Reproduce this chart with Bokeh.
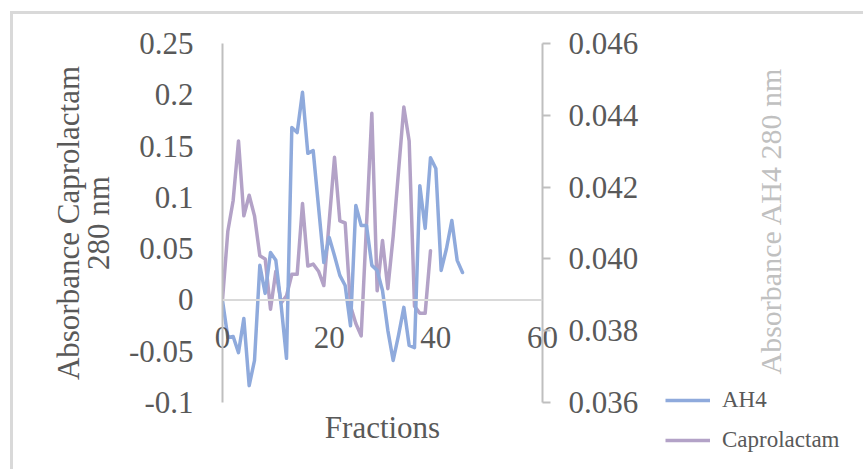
from math import pi
import numpy as np
from bokeh.plotting import figure
from bokeh.layouts import row
from bokeh.models import (LinearAxis, Range1d, FixedTicker, CustomJSTickFormatter,
                          PrintfTickFormatter, Span, Label, Legend, LegendItem)
from bokeh.embed import file_html
from bokeh.resources import INLINE

# ---- data ----
fractions_cap = list(range(40))
caprolactam = [0.000, 0.067, 0.097, 0.155, 0.082, 0.102, 0.082, 0.043, 0.040, -0.009,
               0.028, -0.003, 0.004, 0.025, 0.025, 0.094, 0.033, 0.035, 0.028, 0.014,
               0.076, 0.139, 0.077, 0.075, -0.006, -0.023, -0.035, 0.073, 0.182, 0.009,
               0.058, 0.011, 0.062, 0.125, 0.188, 0.155, -0.006, -0.013, -0.013, 0.048]
fractions_ah4 = list(range(46))
ah4 = [0.03884, 0.03781, 0.03784, 0.03739, 0.03834, 0.03647, 0.03717, 0.03982, 0.03904, 0.04018,
       0.03996, 0.03870, 0.03723, 0.04366, 0.04352, 0.04464, 0.04294, 0.04302, 0.04146, 0.03990,
       0.04060, 0.04009, 0.03954, 0.03926, 0.03814, 0.04149, 0.04093, 0.04093, 0.03982, 0.03968,
       0.03912, 0.03801, 0.03717, 0.03787, 0.03865, 0.03759, 0.03753, 0.04204, 0.04085, 0.04282,
       0.04252, 0.03968, 0.04029, 0.04107, 0.03996, 0.03962]
left_ticks = [-0.1, -0.05, 0, 0.05, 0.1, 0.15, 0.2, 0.25]
right_ticks = [0.036, 0.038, 0.040, 0.042, 0.044, 0.046]
x_ticks = [0, 20, 40, 60]

FONT = "Liberation Serif"
TXT = "#595959"
AXC = "#bfbfbf"
BLUE = "#8faadc"
PURPLE = "#b3a2c7"

# ---- main chart ----
p = figure(width=637, height=455, x_range=Range1d(0, 60), y_range=Range1d(-0.1, 0.25),
           x_axis_location=None, y_axis_location=None, toolbar_location=None,
           output_backend="svg",
           min_border_left=209, min_border_right=108, min_border_top=29, min_border_bottom=67)
p.extra_y_ranges = {"ah4": Range1d(0.036, 0.046)}
p.outline_line_color = None
p.background_fill_color = "white"
p.border_fill_color = "white"
p.xgrid.visible = False
p.ygrid.visible = False

# zero line (x axis crossing at 0)
p.add_layout(Span(location=0, dimension="width", line_color="#d9d9d9", line_width=2))

# left axis
yl = LinearAxis(ticker=FixedTicker(ticks=left_ticks),
                formatter=CustomJSTickFormatter(code="return String(tick)"),
                axis_label="Absorbance Caprolactam\n280 nm")
yl.axis_line_color = AXC
yl.axis_line_width = 2
yl.major_tick_out = 0
yl.major_tick_in = 0
yl.minor_tick_out = 0
yl.minor_tick_in = 0
yl.major_label_standoff = 29
yl.major_label_text_font = FONT
yl.major_label_text_font_size = "31px"
yl.major_label_text_color = TXT
yl.axis_label_text_font = FONT
yl.axis_label_text_font_size = "31px"
yl.axis_label_text_font_style = "normal"
yl.axis_label_text_color = TXT
yl.axis_label_text_line_height = 0.85
yl.axis_label_standoff = 10
p.add_layout(yl, "left")

# right axis
yr = LinearAxis(y_range_name="ah4", ticker=FixedTicker(ticks=right_ticks),
                formatter=PrintfTickFormatter(format="%.3f"))
yr.axis_line_color = AXC
yr.axis_line_width = 2
yr.major_tick_out = 8
yr.major_tick_in = 0
yr.major_tick_line_color = AXC
yr.major_tick_line_width = 2
yr.minor_tick_out = 0
yr.minor_tick_in = 0
yr.major_label_standoff = 18
yr.major_label_text_font = FONT
yr.major_label_text_font_size = "31px"
yr.major_label_text_color = TXT
p.add_layout(yr, "right")

# x axis
xa = LinearAxis(ticker=FixedTicker(ticks=x_ticks), axis_label="Fractions")
xa.axis_line_color = None
xa.major_tick_line_color = None
xa.major_tick_out = 0
xa.major_tick_in = 0
xa.minor_tick_out = 0
xa.minor_tick_in = 0
xa.major_label_standoff = -76
xa.major_label_text_font = FONT
xa.major_label_text_font_size = "31px"
xa.major_label_text_color = TXT
xa.axis_label_text_font = FONT
xa.axis_label_text_font_size = "31px"
xa.axis_label_text_font_style = "normal"
xa.axis_label_text_color = TXT
xa.axis_label_standoff = 59
p.add_layout(xa, "below")

# series
r_cap = p.line(fractions_cap, caprolactam, line_color=PURPLE, line_width=3.5,
               line_join="round", line_cap="round")
r_ah4 = p.line(fractions_ah4, ah4, y_range_name="ah4", line_color=BLUE, line_width=3.5,
               line_join="round", line_cap="round")

# ---- side panel: right-axis title and legend ----
s = figure(width=213, height=455, x_range=Range1d(0, 1), y_range=Range1d(0, 1),
           x_axis_location=None, y_axis_location=None, toolbar_location=None,
           output_backend="svg",
           min_border_left=0, min_border_right=0, min_border_top=0, min_border_bottom=0)
s.outline_line_color = None
s.background_fill_color = "white"
s.border_fill_color = "white"
s.xgrid.visible = False
s.ygrid.visible = False
if "frame_align" in s.properties():
    s.frame_align = False
    p.frame_align = False

s.add_layout(Label(x=120, y=252.5, x_units="screen", y_units="screen",
                   text="Absorbance  AH4 280 nm", angle=pi / 2,
                   text_align="center", text_baseline="middle",
                   text_font=FONT, text_font_size="30px", text_color="#c0c0c0"))

# legend keys (no drawable points, only their styles are used by the legend)
k_ah4 = s.line(np.array([np.nan]), np.array([np.nan]), line_color=BLUE, line_width=3.5)
k_cap = s.line(np.array([np.nan]), np.array([np.nan]), line_color=PURPLE, line_width=3.5)
legend = Legend(items=[LegendItem(label="AH4", renderers=[k_ah4]),
                       LegendItem(label="Caprolactam", renderers=[k_cap])],
                location=(15, 16))
legend.border_line_color = None
legend.background_fill_alpha = 0
legend.padding = 0
legend.margin = 0
legend.spacing = 14
legend.glyph_width = 45
legend.glyph_height = 24
legend.label_height = 24
legend.label_standoff = 12
legend.label_text_font = FONT
legend.label_text_font_size = "23px"
legend.label_text_color = TXT
s.add_layout(legend)

lay = row(p, s)
lay.styles = {"border-left": "3px solid #d9d9d9", "border-top": "3px solid #d9d9d9",
              "margin-left": "10px", "margin-top": "11px"}

open("out.html", "w").write(file_html(lay, INLINE))
